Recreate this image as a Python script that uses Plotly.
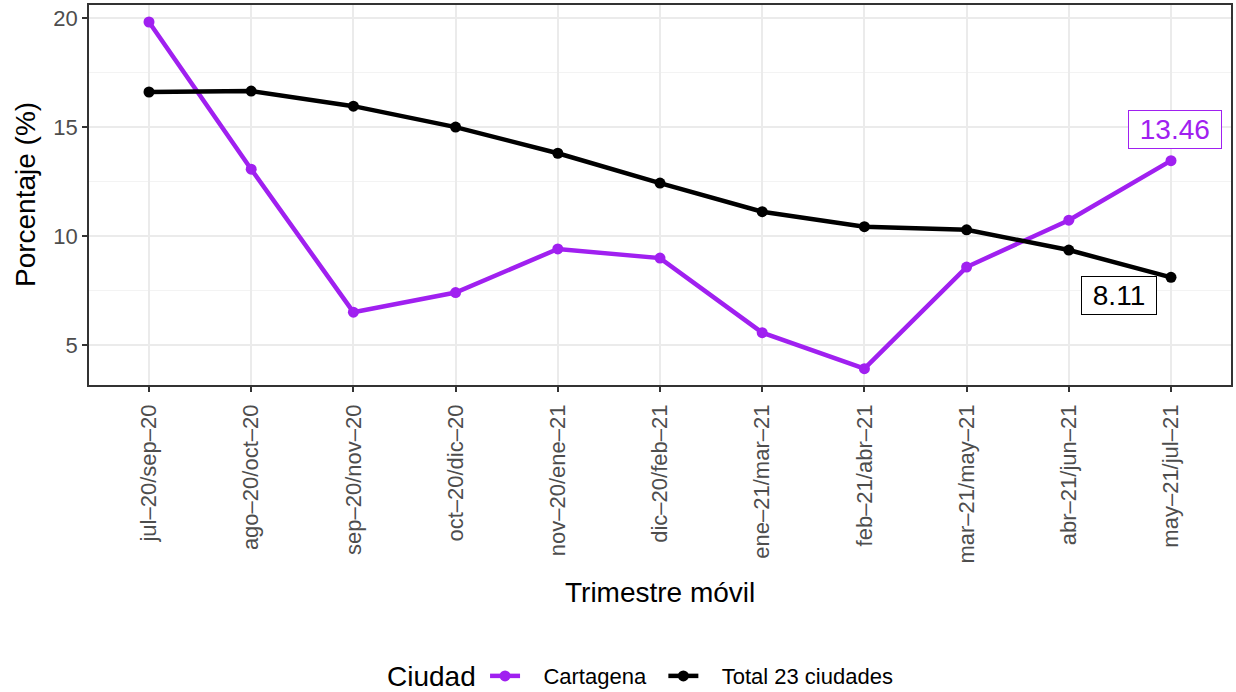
import plotly.graph_objects as go

periods = ["jul–20/sep–20", "ago–20/oct–20", "sep–20/nov–20", "oct–20/dic–20",
           "nov–20/ene–21", "dic–20/feb–21", "ene–21/mar–21", "feb–21/abr–21",
           "mar–21/may–21", "abr–21/jun–21", "may–21/jul–21"]
cartagena = [19.82, 13.07, 6.51, 7.41, 9.41, 8.99, 5.57, 3.92, 8.58, 10.73, 13.46]
total23 = [16.61, 16.65, 15.96, 15.0, 13.8, 12.43, 11.12, 10.43, 10.29, 9.36, 8.11]

PURPLE = "#A020F0"
FONT = "Liberation Sans, Arial, sans-serif"
NB = "\u00a0"

x_idx = list(range(len(periods)))

fig = go.Figure()
fig.add_trace(go.Scatter(x=x_idx, y=cartagena, mode="lines+markers",
                         name=NB * 3 + "Cartagena" + NB * 2,
                         line=dict(color=PURPLE, width=4.5), marker=dict(color=PURPLE, size=11)))
fig.add_trace(go.Scatter(x=x_idx, y=total23, mode="lines+markers",
                         name=NB * 3 + "Total 23 ciudades",
                         line=dict(color="black", width=4.5), marker=dict(color="black", size=11)))

# end labels
fig.add_annotation(x=x_idx[-1], y=cartagena[-1], text=f"{NB}{cartagena[-1]:.2f}{NB}", showarrow=False,
                   xshift=4, yshift=31, font=dict(color=PURPLE, size=28, family=FONT),
                   bordercolor=PURPLE, borderwidth=1, borderpad=3, bgcolor="white")
fig.add_annotation(x=x_idx[-1], y=total23[-1], text=f"{NB}{total23[-1]:.2f}{NB}", showarrow=False,
                   xshift=-52, yshift=-18, font=dict(color="black", size=28, family=FONT),
                   bordercolor="black", borderwidth=1, borderpad=3, bgcolor="white")

# axis titles
fig.add_annotation(xref="paper", yref="paper", x=0.5, y=-0.547, text="Trimestre móvil",
                   showarrow=False, font=dict(size=28, color="black", family=FONT), yanchor="middle")
fig.add_annotation(xref="paper", yref="paper", x=-0.056, y=0.5, text="Porcentaje (%)",
                   showarrow=False, textangle=-90, font=dict(size=28, color="black", family=FONT),
                   xanchor="center", yanchor="middle")
# legend title
fig.add_annotation(xref="paper", yref="paper", x=0.2999, y=-0.766, text="Ciudad",
                   showarrow=False, font=dict(size=28, color="black", family=FONT),
                   xanchor="center", yanchor="middle")

grid_c = "#EBEBEB"
fig.update_layout(
    width=1236, height=692,
    margin=dict(l=89, r=5, t=5, b=307),
    plot_bgcolor="white", paper_bgcolor="white",
    font=dict(family=FONT, color="black"),
    showlegend=True,
    legend=dict(orientation="h", x=0.3468, xanchor="left", yref="container", y=0.023,
                yanchor="middle", font=dict(size=22)),
    xaxis=dict(range=[-0.587, 10.587], tickmode="array", tickvals=x_idx, ticktext=periods,
               tickangle=-90, tickfont=dict(size=22, color="#4D4D4D"), automargin=False,
               ticklabelstandoff=4,
               showgrid=True, gridcolor=grid_c, gridwidth=1.5,
               ticks="outside", ticklen=5, tickcolor="#333333", tickwidth=1.5,
               showline=True, linecolor="#333333", linewidth=1.5, mirror=True, zeroline=False),
    yaxis=dict(range=[3.17, 20.6], tickvals=[5, 10, 15, 20], tickfont=dict(size=22, color="#4D4D4D"),
               automargin=False,
               showgrid=True, gridcolor=grid_c, gridwidth=1.5,
               minor=dict(tickvals=[7.5, 12.5, 17.5], showgrid=True, gridcolor="#F3F3F3", gridwidth=1),
               ticks="outside", ticklen=5, tickcolor="#333333", tickwidth=1.5,
               showline=True, linecolor="#333333", linewidth=1.5, mirror=True, zeroline=False),
)

fig.write_html("out.html", config={"displayModeBar": False},
               post_script="document.body.style.margin='0';")
